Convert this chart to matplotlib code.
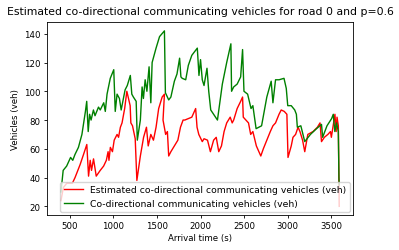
import numpy as np
import matplotlib
matplotlib.use("Agg")
import matplotlib.pyplot as plt

# green series: co-directional communicating vehicles
t_real = [400, 425, 465, 510, 535, 560, 600, 640, 680, 695, 712, 728, 745, 772, 790,
          830, 850, 890, 908, 928, 965, 1005, 1022, 1043, 1070, 1090, 1135, 1160, 1195,
          1212, 1230, 1262, 1275, 1310, 1330, 1345, 1365, 1385, 1410, 1430, 1445, 1490,
          1530, 1586, 1597, 1635, 1660, 1700, 1730, 1760, 1775, 1790, 1830, 1860, 1900,
          1963, 1982, 2000, 2020, 2040, 2074, 2094, 2117, 2194, 2250, 2300, 2348, 2356,
          2380, 2420, 2460, 2482, 2498, 2540, 2579, 2600, 2637, 2700, 2760, 2810, 2830,
          2860, 2900, 2957, 2983, 3000, 3040, 3080, 3099, 3110, 3150, 3195, 3260, 3330,
          3387, 3400, 3450, 3503, 3522, 3540, 3560, 3580, 3587, 3590]
v_real = [30, 45, 48, 54, 52, 56, 61, 70, 86, 93, 72, 84, 80, 87, 83,
          89, 87, 92, 86, 98, 109, 115, 86, 98, 95, 87, 101, 104, 111,
          98, 96, 93, 66, 80, 103, 95, 108, 100, 117, 92, 120, 130,
          138, 142, 99, 94, 96, 107, 112, 123, 110, 109, 108, 118, 125,
          130, 111, 122, 108, 104, 116, 100, 87, 80, 105, 120, 133, 100,
          103, 105, 110, 129, 100, 98, 88, 90, 74, 76, 96, 107, 92,
          108, 108, 109, 102, 90, 90, 87, 84, 75, 76, 65, 70, 74,
          77, 68, 76, 81, 84, 72, 78, 72, 40, 35]

# red series: estimated co-directional communicating vehicles
t_est = [400, 427, 465, 530, 561, 619, 658, 696, 716, 735, 750, 773, 804, 850, 889,
         920, 940, 950, 966, 990, 1010, 1043, 1060, 1081, 1100, 1130, 1155, 1193, 1201,
         1220, 1251, 1270, 1310, 1347, 1380, 1400, 1430, 1460, 1490, 1520, 1560, 1586,
         1570, 1600, 1620, 1635, 1660, 1700, 1740, 1770, 1800, 1820, 1860, 1900, 1944,
         1960, 1980, 2020, 2040, 2080, 2113, 2150, 2180, 2209, 2240, 2270, 2300, 2340,
         2363, 2380, 2420, 2460, 2482, 2490, 2520, 2550, 2575, 2600, 2640, 2691, 2720,
         2760, 2800, 2830, 2860, 2900, 2925, 2960, 2990, 3003, 3040, 3060, 3090, 3118,
         3140, 3170, 3195, 3230, 3290, 3340, 3370, 3387, 3420, 3460, 3490, 3500, 3541,
         3555, 3565, 3580, 3590]
v_est = [24, 33, 36, 36, 40, 49, 56, 63, 41, 52, 45, 53, 41, 45, 48,
         52, 58, 52, 61, 58, 66, 70, 68, 75, 78, 88, 100, 90, 78,
         76, 67, 38, 55, 68, 75, 62, 70, 66, 75, 88, 96, 98,
         80, 70, 72, 55, 58, 62, 66, 75, 80, 80, 81, 82, 88,
         75, 70, 65, 67, 66, 58, 66, 68, 58, 62, 72, 78, 82,
         78, 80, 88, 93, 96, 82, 80, 78, 70, 72, 62, 55, 60,
         66, 72, 76, 78, 84, 87, 86, 84, 54, 62, 68, 70, 75,
         72, 66, 58, 70, 72, 75, 78, 65, 68, 70, 72, 68, 84,
         72, 82, 76, 20]

plt.rcParams['font.size'] = 6.2

fig, ax = plt.subplots(figsize=(3.99, 2.51), dpi=100)
fig.subplots_adjust(left=0.118, right=0.885, top=0.908, bottom=0.139)

ax.plot(t_est, v_est, color='red', lw=1.0,
        label='Estimated co-directional communicating vehicles (veh)')
ax.plot(t_real, v_real, color='green', lw=1.0,
        label='Co-directional communicating vehicles (veh)')

ax.set_title('Estimated co-directional communicating vehicles for road 0 and p=0.6', fontsize=7.8)
ax.set_xlabel('Arrival time (s)', labelpad=2)
ax.set_ylabel('Vehicles (veh)', labelpad=3)
ax.set_xticks([500, 1000, 1500, 2000, 2500, 3000, 3500])
ax.set_yticks([20, 40, 60, 80, 100, 120, 140])
ax.tick_params(length=2.5, width=0.6, pad=2)
for s in ax.spines.values():
    s.set_linewidth(0.6)
ax.legend(loc='lower right', fontsize=6.7, borderaxespad=0.35)

fig.savefig('out.png', dpi=100)
